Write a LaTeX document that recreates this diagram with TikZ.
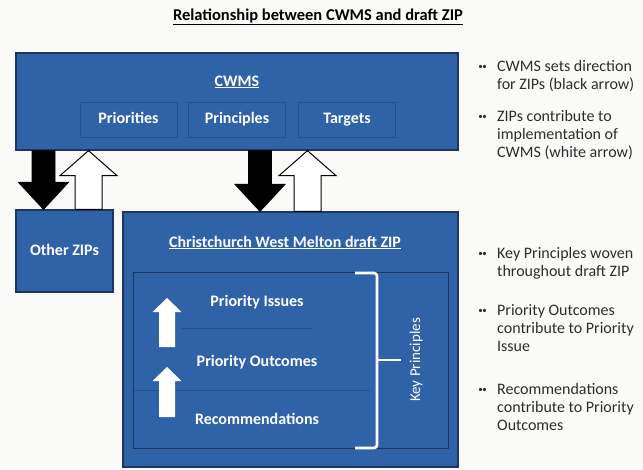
\documentclass[tikz,border=0pt]{standalone}
\usepackage{fontspec}
\setmainfont{Carlito}
\usepackage{xcolor}
\usetikzlibrary{calc,positioning}

\definecolor{zipblue}{RGB}{47,98,166}
\definecolor{zipedge}{RGB}{28,54,98}
\definecolor{subedge}{RGB}{36,78,140}
\definecolor{notegray}{RGB}{45,45,45}
\definecolor{paper}{RGB}{250,250,248}

\begin{document}
\begin{tikzpicture}[
    x=1pt, y=-1pt,
    font=\fontsize{16}{18}\selectfont,
    bigbox/.style={rectangle, draw=zipedge, line width=1.3pt, fill=zipblue, inner sep=0pt},
    subbox/.style={rectangle, draw=subedge, line width=0.9pt, fill=zipblue, inner sep=0pt, minimum width=97pt, minimum height=35pt, text height=11pt, text depth=3pt, text=white, font=\fontsize{16}{18}\selectfont\bfseries},
    head/.style={text=white, inner sep=0pt, text height=11pt, text depth=3pt, font=\fontsize{16}{18}\selectfont\bfseries},
    note/.style={anchor=north west, align=left, inner sep=0pt, text=notegray},
    dots/.style={anchor=east, inner sep=0pt, text=notegray, font=\fontsize{9}{9}\selectfont},
    blockdown/.style n args={3}{to path={let \p1=(\tikztostart), \p2=(\tikztotarget) in
        (\x1-#1,\y1) -- (\x1+#1,\y1) -- (\x1+#1,\y2+#3) -- (\x1+#2,\y2+#3) -- (\x2,\y2)
        -- (\x1-#2,\y2+#3) -- (\x1-#1,\y2+#3) -- cycle}},
    blockup/.style n args={3}{to path={let \p1=(\tikztostart), \p2=(\tikztotarget) in
        (\x1-#1,\y1) -- (\x1+#1,\y1) -- (\x1+#1,\y2-#3) -- (\x1+#2,\y2-#3) -- (\x2,\y2)
        -- (\x1-#2,\y2-#3) -- (\x1-#1,\y2-#3) -- cycle}},
    bracket/.style={white, line width=2.6pt}
]
    \fill[paper] (0,0) rectangle (643,469);
    \useasboundingbox (0,0) rectangle (643,469);

    \node[font=\fontsize{16.5}{18}\selectfont\bfseries] (title) at (318,17) {\underline{Relationship between CWMS and draft ZIP}};

    % CWMS
    \node[bigbox, minimum width=442pt, minimum height=97pt] (cwms) at (237,101.5) {};
    \node[head] (cwmstitle) at (237,82) {\underline{CWMS}};
    \node[subbox] (prio) at (128.5,119.5) {Priorities};
    \node[subbox] (princ) at (237,119.5) {Principles};
    \node[subbox] (targ) at (347,119.5) {Targets};

    % ZIPs
    \node[bigbox, head, minimum width=97pt, minimum height=82pt] (other) at (64.5,251) {Other ZIPs};
    \node[bigbox, minimum width=335pt, minimum height=255pt] (zip) at (290.5,339.5) {};
    \node[head] (ziptitle) at (285,243) {\underline{Christchurch West Melton draft ZIP}};
    \node[rectangle, draw=zipedge, line width=1pt, minimum width=315pt, minimum height=176pt] (core) at (290.5,360) {};
    \draw[subedge, line width=1pt] (182,328) -- (313,328);
    \draw[subedge, line width=1pt] (134,390) -- (370,390);
    \node[head] (issues) at (257,302) {Priority Issues};
    \node[head] (outcomes) at (257,362) {Priority Outcomes};
    \node[head] (recs) at (257,420) {Recommendations};
    \path[fill=white, blockup={8}{14.5}{14}] (167,347) to (167,298);
    \path[fill=white, blockup={8}{14.5}{14}] (167,417) to (167,367);
    \draw[bracket, rounded corners=3pt] (355,273) -- (377,273) -- (377,448) -- (355,448);
    \draw[bracket] (377,360) -- (401,360);
    \node[head, font=\fontsize{15}{18}\selectfont, rotate=90] (keyp) at (416,360) {Key Principles};

    % block arrows
    \draw[fill=black, line width=0.8pt, blockdown={11.5}{25}{27}] (cwms.south -| 43.5,0) to (other.north -| 43.5,0);
    \draw[fill=white, line width=1pt, blockup={13.5}{28.5}{25}] (other.north -| 88.5,0) to (cwms.south -| 88.5,0);
    \draw[fill=black, line width=0.8pt, blockdown={11.5}{25}{27}] (cwms.south -| 260,0) to (zip.north -| 260,0);
    \draw[fill=white, line width=1pt, blockup={13.5}{28.5}{25}] (zip.north -| 307.5,0) to (cwms.south -| 307.5,0);

    % notes
    \node[note] (n1) at (497,60) {CWMS sets direction\\for ZIPs (black arrow)};
    \node[note] (n2) at (497,110) {ZIPs contribute to\\implementation of\\CWMS (white arrow)};
    \node[note] (n3) at (497,247) {Key Principles woven\\throughout draft ZIP};
    \node[note] (n4) at (497,304) {Priority Outcomes\\contribute to Priority\\Issue};
    \node[note] (n5) at (497,383) {Recommendations\\contribute to Priority\\Outcomes};
    \foreach \n in {n1,n2,n3,n4,n5}
        \node[dots] at ([xshift=-10pt,yshift=-7pt]\n.north west) {\textbullet\kern-0.5pt\textbullet};
\end{tikzpicture}
\end{document}
